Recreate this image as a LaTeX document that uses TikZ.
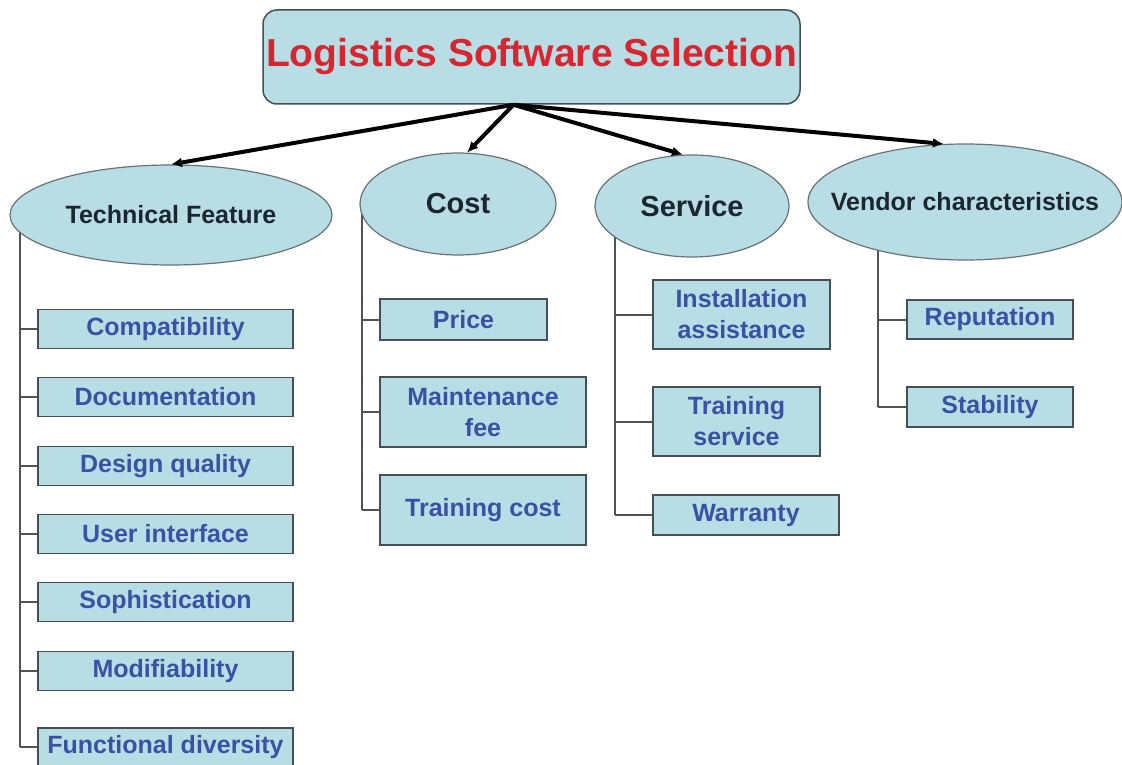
\documentclass[tikz,border=0pt]{standalone}
\usepackage{fontspec}
\setmainfont{Liberation Sans}
\usepackage{tikz}
\usetikzlibrary{shapes.geometric,arrows.meta,backgrounds}

\definecolor{boxfill}{RGB}{184,221,228}
\definecolor{boxline}{RGB}{68,80,84}
\definecolor{itemblue}{RGB}{56,82,164}
\definecolor{titlered}{RGB}{216,38,48}
\definecolor{catink}{RGB}{26,38,48}
\definecolor{trunkgray}{RGB}{80,82,84}

\begin{document}
\begin{tikzpicture}[x=1pt,y=-1pt,
  goal/.style={draw=boxline, line width=1.5pt, fill=boxfill, rounded corners=14pt,
    minimum width=537pt, minimum height=94pt, inner sep=0pt, text=titlered,
    font=\bfseries\fontsize{39}{39}\selectfont},
  cat/.style={ellipse, draw=boxline!80, line width=1.2pt, fill=boxfill, inner sep=0pt,
    text=catink, font=\bfseries\fontsize{25}{25}\selectfont},
  item/.style={draw=boxline, line width=1.8pt, fill=boxfill, inner sep=0pt,
    minimum height=39pt, align=center, text=itemblue,
    font=\bfseries\fontsize{25}{31}\selectfont},
  branch/.style={line width=4pt, -{Latex[length=11pt,width=10pt]}},
  trunk/.style={draw=trunkgray, line width=2pt}]
\useasboundingbox (0,0) rectangle (1122,765);
%
\node[goal] (goal) at (531.5,57) {Logistics Software Selection};
\coordinate (hub) at ([xshift=-18pt]goal.south);
%
\node[cat, minimum width=322pt, minimum height=100pt] (tf) at (171,215) {\makebox[0pt]{Technical Feature}};
\node[cat, minimum width=196pt, minimum height=102pt, font=\bfseries\fontsize{29}{29}\selectfont] (co) at (458,204) {\makebox[0pt]{Cost}};
\node[cat, minimum width=194pt, minimum height=102pt, font=\bfseries\fontsize{29}{29}\selectfont] (sv) at (692,206) {\makebox[0pt]{Service}};
\node[cat, minimum width=314pt, minimum height=116pt] (vc) at (965,202) {\makebox[0pt]{Vendor characteristics}};
%
\draw[branch] (hub) -- (tf.north);
\draw[branch] (hub) -- (co.80);
\draw[branch] (hub) -- (sv.100);
\draw[branch] (hub) -- (vc.110);
%
\node[item, minimum width=255pt] (cp) at (165.5,329) {Compatibility};
\node[item, minimum width=255pt] (dc) at (165.5,397) {Documentation};
\node[item, minimum width=255pt] (dq) at (165.5,466) {Design quality};
\node[item, minimum width=255pt] (ui) at (165.5,534) {User interface};
\node[item, minimum width=255pt] (so) at (165.5,602) {Sophistication};
\node[item, minimum width=255pt] (md) at (165.5,671) {Modifiability};
\node[item, minimum width=255pt, minimum height=38pt] (fd) at (165.5,747) {Functional diversity};
%
\node[item, minimum width=167pt, minimum height=41pt] (pr) at (463.5,319.5) {Price};
\node[item, minimum width=206pt, minimum height=70pt] (mf) at (483,412) {Maintenance\\fee};
\node[item, minimum width=206pt, minimum height=70pt] (tc) at (483,510) {Training cost};
%
\node[item, minimum width=177pt, minimum height=69pt] (ia) at (741.5,314.5) {Installation\\assistance};
\node[item, minimum width=167pt, minimum height=69pt] (ts) at (736.5,421.5) {Training\\service};
\node[item, minimum width=186pt, minimum height=40pt] (wa) at (746,515) {Warranty};
%
\node[item, minimum width=166pt] (rp) at (990,319.5) {Reputation};
\node[item, minimum width=166pt, minimum height=40pt] (st) at (990,407) {Stability};
%
\coordinate (tf-x) at (20,0);
\coordinate (co-x) at (362,0);
\coordinate (sv-x) at (615,0);
\coordinate (vc-x) at (878,0);
\begin{scope}[on background layer]
\fill[white] (0,0) rectangle (1122,765);
\draw[trunk] (tf-x |- tf.center) -- (tf-x |- fd.west);
\draw[trunk] (co-x |- co.center) -- (co-x |- tc.west);
\draw[trunk] (sv-x |- sv.center) -- (sv-x |- wa.west);
\draw[trunk] (vc-x |- vc.center) -- (vc-x |- st.west);
\end{scope}
\foreach \n in {cp,dc,dq,ui,so,md,fd} \draw[trunk] (tf-x |- \n.west) -- (\n.west);
\foreach \n in {pr,mf,tc} \draw[trunk] (co-x |- \n.west) -- (\n.west);
\foreach \n in {ia,ts,wa} \draw[trunk] (sv-x |- \n.west) -- (\n.west);
\foreach \n in {rp,st} \draw[trunk] (vc-x |- \n.west) -- (\n.west);
\end{tikzpicture}
\end{document}
